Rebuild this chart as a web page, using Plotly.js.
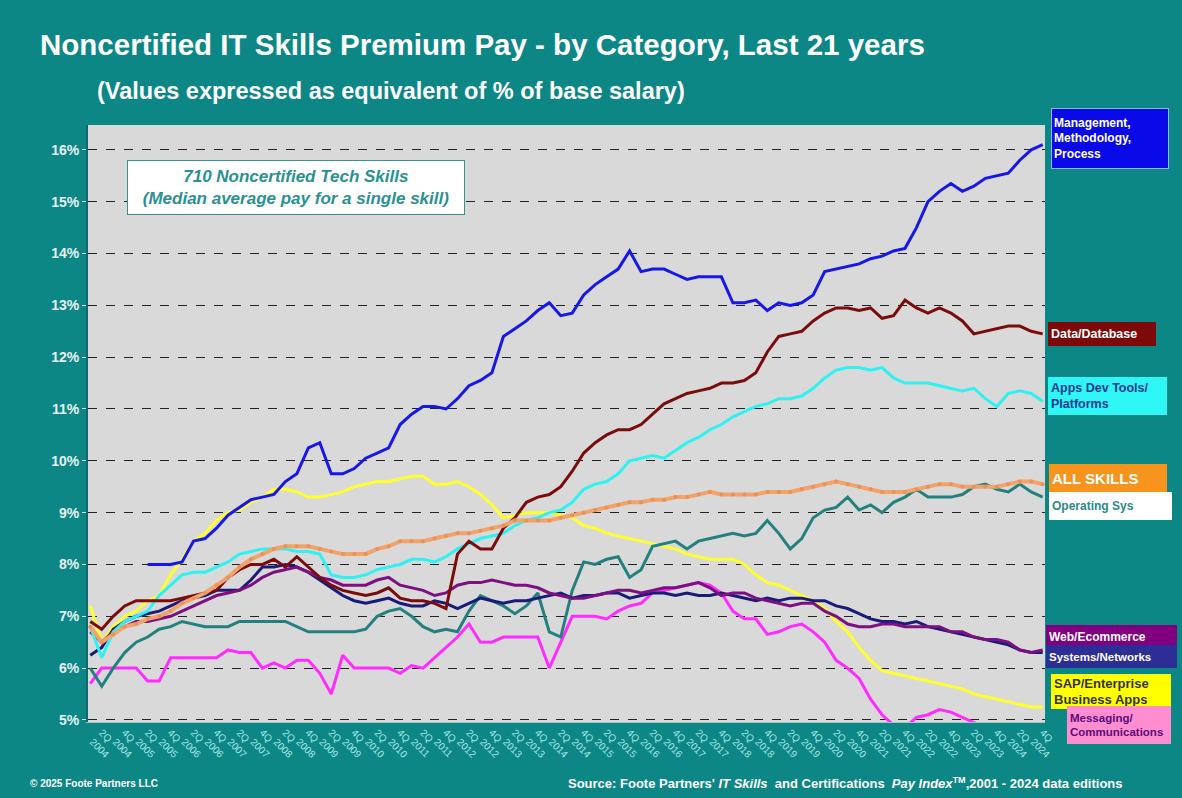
<!DOCTYPE html>
<html>
<head>
<meta charset="utf-8">
<script src="https://cdn.plot.ly/plotly-3.0.1.min.js"></script>
<style>html,body{margin:0;padding:0;background:#0d8686;}#chart{width:1182px;height:798px;}</style>
</head>
<body>
<div id="chart"></div>
<script>
const quarters = ["1Q 2004","2Q 2004","3Q 2004","4Q 2004","1Q 2005","2Q 2005","3Q 2005","4Q 2005","1Q 2006","2Q 2006","3Q 2006","4Q 2006","1Q 2007","2Q 2007","3Q 2007","4Q 2007","1Q 2008","2Q 2008","3Q 2008","4Q 2008","1Q 2009","2Q 2009","3Q 2009","4Q 2009","1Q 2010","2Q 2010","3Q 2010","4Q 2010","1Q 2011","2Q 2011","3Q 2011","4Q 2011","1Q 2012","2Q 2012","3Q 2012","4Q 2012","1Q 2013","2Q 2013","3Q 2013","4Q 2013","1Q 2014","2Q 2014","3Q 2014","4Q 2014","1Q 2015","2Q 2015","3Q 2015","4Q 2015","1Q 2016","2Q 2016","3Q 2016","4Q 2016","1Q 2017","2Q 2017","3Q 2017","4Q 2017","1Q 2018","2Q 2018","3Q 2018","4Q 2018","1Q 2019","2Q 2019","3Q 2019","4Q 2019","1Q 2020","2Q 2020","3Q 2020","4Q 2020","1Q 2021","2Q 2021","3Q 2021","4Q 2021","1Q 2022","2Q 2022","3Q 2022","4Q 2022","1Q 2023","2Q 2023","3Q 2023","4Q 2023","1Q 2024","2Q 2024","3Q 2024","4Q 2024"];

const tickQuarters = ["2Q 2004","4Q 2004","2Q 2005","4Q 2005","2Q 2006","4Q 2006","2Q 2007","4Q 2007","2Q 2008","4Q 2008","2Q 2009","4Q 2009","2Q 2010","4Q 2010","2Q 2011","4Q 2011","2Q 2012","4Q 2012","2Q 2013","4Q 2013","2Q 2014","4Q 2014","2Q 2015","4Q 2015","2Q 2016","4Q 2016","2Q 2017","4Q 2017","2Q 2018","4Q 2018","2Q 2019","4Q 2019","2Q 2020","4Q 2020","2Q 2021","4Q 2021","2Q 2022","4Q 2022","2Q 2023","4Q 2023","2Q 2024","4Q 2024"];

const management = [null,null,null,null,null,8.0,8.0,8.0,8.05,8.45,8.5,8.7,8.95,9.1,9.25,9.3,9.35,9.6,9.75,10.25,10.35,9.75,9.75,9.85,10.05,10.15,10.25,10.7,10.9,11.05,11.05,11.0,11.2,11.45,11.55,11.7,12.4,12.55,12.7,12.9,13.05,12.8,12.85,13.2,13.4,13.55,13.7,14.05,13.65,13.7,13.7,13.6,13.5,13.55,13.55,13.55,13.05,13.05,13.1,12.9,13.05,13.0,13.05,13.2,13.65,13.7,13.75,13.8,13.9,13.95,14.05,14.1,14.5,15.0,15.2,15.35,15.2,15.3,15.45,15.5,15.55,15.8,16.0,16.1];

const dataDatabase = [6.9,6.75,7.0,7.2,7.3,7.3,7.3,7.3,7.35,7.4,7.45,7.5,7.75,7.9,8.0,8.0,8.1,7.95,8.15,7.95,7.75,7.6,7.5,7.45,7.4,7.45,7.55,7.35,7.3,7.3,7.25,7.15,8.2,8.45,8.3,8.3,8.7,8.9,9.2,9.3,9.35,9.5,9.8,10.15,10.35,10.5,10.6,10.6,10.7,10.9,11.1,11.2,11.3,11.35,11.4,11.5,11.5,11.55,11.7,12.1,12.4,12.45,12.5,12.7,12.85,12.95,12.95,12.9,12.95,12.75,12.8,13.1,12.95,12.85,12.95,12.85,12.7,12.45,12.5,12.55,12.6,12.6,12.5,12.45];

const appsDev = [6.8,6.2,6.7,6.9,7.0,7.1,7.4,7.6,7.8,7.85,7.85,7.95,8.05,8.2,8.25,8.3,8.3,8.3,8.25,8.25,8.2,7.8,7.75,7.75,7.8,7.9,7.95,8.0,8.1,8.1,8.05,8.15,8.3,8.4,8.5,8.55,8.6,8.75,8.85,8.9,9.0,9.05,9.2,9.45,9.55,9.6,9.75,10.0,10.05,10.1,10.05,10.2,10.35,10.45,10.6,10.7,10.85,10.95,11.05,11.1,11.2,11.2,11.25,11.4,11.6,11.75,11.8,11.8,11.75,11.8,11.6,11.5,11.5,11.5,11.45,11.4,11.35,11.4,11.2,11.05,11.3,11.35,11.3,11.15];

const allSkills = [6.8,6.5,6.65,6.8,6.85,6.95,7.0,7.1,7.25,7.35,7.45,7.6,7.75,7.95,8.1,8.2,8.3,8.35,8.35,8.35,8.3,8.25,8.2,8.2,8.2,8.3,8.35,8.45,8.45,8.45,8.5,8.55,8.6,8.6,8.65,8.7,8.75,8.85,8.85,8.85,8.85,8.9,8.95,9.0,9.05,9.1,9.15,9.2,9.2,9.25,9.25,9.3,9.3,9.35,9.4,9.35,9.35,9.35,9.35,9.4,9.4,9.4,9.45,9.5,9.55,9.6,9.55,9.5,9.45,9.4,9.4,9.4,9.45,9.5,9.55,9.55,9.5,9.5,9.5,9.5,9.55,9.6,9.6,9.55];

const operatingSys = [6.0,5.65,6.0,6.3,6.5,6.6,6.75,6.8,6.9,6.85,6.8,6.8,6.8,6.9,6.9,6.9,6.9,6.9,6.8,6.7,6.7,6.7,6.7,6.7,6.75,7.0,7.1,7.15,7.0,6.8,6.7,6.75,6.7,7.1,7.4,7.3,7.2,7.05,7.2,7.45,6.7,6.6,7.5,8.05,8.0,8.1,8.15,7.75,7.9,8.35,8.4,8.45,8.3,8.45,8.5,8.55,8.6,8.55,8.6,8.85,8.6,8.3,8.5,8.9,9.05,9.1,9.3,9.05,9.15,9.0,9.2,9.3,9.45,9.3,9.3,9.3,9.35,9.5,9.55,9.45,9.4,9.55,9.4,9.3];

const sapEnterprise = [7.2,6.5,6.8,7.0,7.1,7.3,7.4,7.8,8.1,8.45,8.6,8.85,9.0,9.05,9.2,9.3,9.45,9.45,9.4,9.3,9.3,9.35,9.4,9.5,9.55,9.6,9.6,9.65,9.7,9.7,9.55,9.55,9.6,9.5,9.35,9.15,8.9,8.95,9.0,9.0,9.0,8.95,8.9,8.75,8.7,8.6,8.55,8.5,8.45,8.4,8.35,8.3,8.2,8.15,8.1,8.1,8.1,8.0,7.8,7.65,7.6,7.5,7.4,7.3,7.15,6.9,6.7,6.4,6.15,5.95,5.9,5.85,5.8,5.75,5.7,5.65,5.6,5.5,5.45,5.4,5.35,5.3,5.25,5.25];

const webEcommerce = [6.7,6.5,6.7,6.8,6.9,6.9,6.95,7.0,7.1,7.2,7.3,7.4,7.45,7.5,7.6,7.75,7.85,7.9,7.95,7.85,7.75,7.7,7.6,7.6,7.6,7.7,7.75,7.6,7.55,7.5,7.4,7.45,7.6,7.65,7.65,7.7,7.65,7.6,7.6,7.55,7.45,7.4,7.35,7.35,7.4,7.45,7.5,7.5,7.45,7.5,7.55,7.55,7.6,7.65,7.55,7.4,7.45,7.45,7.35,7.3,7.25,7.2,7.25,7.25,7.1,7.0,6.85,6.8,6.8,6.85,6.85,6.8,6.8,6.8,6.8,6.7,6.7,6.6,6.55,6.55,6.5,6.35,6.3,6.35];

const systemsNetworks = [6.25,6.4,6.75,6.9,7.0,7.05,7.1,7.2,7.3,7.35,7.4,7.5,7.5,7.5,7.7,7.95,7.95,8.0,7.95,7.85,7.7,7.55,7.4,7.3,7.25,7.3,7.35,7.25,7.2,7.2,7.3,7.25,7.15,7.25,7.35,7.3,7.25,7.3,7.3,7.35,7.4,7.45,7.35,7.4,7.4,7.45,7.45,7.35,7.4,7.45,7.45,7.4,7.45,7.4,7.4,7.45,7.4,7.35,7.3,7.35,7.3,7.35,7.35,7.3,7.3,7.2,7.15,7.05,6.95,6.9,6.9,6.85,6.9,6.8,6.75,6.7,6.65,6.6,6.55,6.5,6.45,6.35,6.3,6.3];

const messaging = [5.7,6.0,6.0,6.0,6.0,5.75,5.75,6.2,6.2,6.2,6.2,6.2,6.35,6.3,6.3,6.0,6.1,6.0,6.15,6.15,5.9,5.5,6.25,6.0,6.0,6.0,6.0,5.9,6.05,6.0,6.2,6.4,6.6,6.85,6.5,6.5,6.6,6.6,6.6,6.6,6.0,6.5,7.0,7.0,7.0,6.95,7.1,7.2,7.25,7.45,7.5,7.55,7.6,7.65,7.6,7.45,7.1,6.95,6.95,6.65,6.7,6.8,6.85,6.7,6.5,6.15,6.0,5.8,5.4,5.1,4.9,4.85,5.05,5.1,5.2,5.15,5.05,4.95,4.85,4.8,4.7,4.6,4.5,4.4];

const seriesDefs = [
  {name:"Messaging/ Communications", y:messaging, color:"#ff2bff", width:3},
  {name:"SAP/Enterprise Business Apps", y:sapEnterprise, color:"#ffff2e", width:3},
  {name:"Operating Sys", y:operatingSys, color:"#24807f", width:3},
  {name:"Systems/Networks", y:systemsNetworks, color:"#1a1a78", width:3},
  {name:"Web/Ecommerce", y:webEcommerce, color:"#7d1080", width:3},
  {name:"Apps Dev Tools/ Platforms", y:appsDev, color:"#2ef2f2", width:3},
  {name:"Data/Database", y:dataDatabase, color:"#7a0c0c", width:3},
  {name:"ALL SKILLS", y:allSkills, color:"#f2a36a", width:4, markers:true},
  {name:"Management, Methodology, Process", y:management, color:"#1717e8", width:3}
];

const traces = seriesDefs.map(s => {
  const t = {
    type:"scatter",
    mode: s.markers ? "lines+markers" : "lines",
    x: quarters,
    y: s.y,
    name: s.name,
    line:{color:s.color, width:s.width},
    connectgaps:false
  };
  if (s.markers) t.marker = {color:"#e8925a", size:4};
  return t;
});

const L=88, R=1045, T=125, B=722;
const px = v => (v-L)/(R-L);
const py = v => (B-v)/(B-T);
const FONT = "Arial, Liberation Sans, sans-serif";

function box(text, x0, y0, x1, y1, bg, fg, border, size){
  return {
    xref:"paper", yref:"paper", x:px(x0), y:py(y0), xanchor:"left", yanchor:"top",
    width:(x1-x0)-8, height:(y1-y0)-4, text:text, showarrow:false, align:"left", valign:"middle",
    bgcolor:bg, bordercolor:border, borderwidth:1, borderpad:2,
    font:{family:FONT, size:size, color:fg, weight:"bold"}
  };
}

const annotations = [
  {xref:"paper", yref:"paper", x:px(95), y:py(91), xanchor:"left", yanchor:"middle", showarrow:false,
   text:"(Values expressed as equivalent of % of base salary)",
   font:{family:FONT, size:23.5, color:"#ffffff", weight:"bold"}},
  {xref:"paper", yref:"paper", x:px(127), y:py(160), xanchor:"left", yanchor:"top", showarrow:false,
   width:334, height:51, bgcolor:"#ffffff", bordercolor:"#3a8f8f", borderwidth:1, align:"center", valign:"middle",
   text:"<i>710 Noncertified Tech Skills</i><br><i>(Median average pay for a single skill)</i>",
   font:{family:FONT, size:17, color:"#2a9191", weight:"bold"}},
  box("Management,<br>Methodology,<br>Process", 1051, 108, 1171, 167, "#0a0ae8", "#ffffff", "#8ab4f0", 12),
  box("Data/Database", 1048, 322, 1158, 344, "#7d0a0a", "#ffffff", "#7d0a0a", 12.5),
  box("Apps Dev Tools/<br>Platforms", 1048, 377, 1169, 413, "#2ff5f5", "#1c3a8c", "#2ff5f5", 12.5),
  box("ALL SKILLS", 1049, 464, 1169, 491, "#f7941d", "#ffffff", "#f7941d", 15),
  box("Operating Sys", 1049, 492, 1174, 518, "#ffffff", "#2a8a8a", "#ffffff", 12),
  box("Web/Ecommerce", 1046, 625, 1179, 646, "#800080", "#ffffff", "#800080", 12),
  box("Systems/Networks", 1046, 645, 1179, 666, "#2d2d96", "#ffffff", "#2d2d96", 11.5),
  box("SAP/Enterprise<br>Business Apps", 1051, 674, 1173, 707, "#ffff00", "#333333", "#ffff00", 13),
  box("Messaging/<br>Communications", 1067, 706, 1173, 742, "#ff8ed0", "#5a0a7a", "#ff8ed0", 11.5),
  {xref:"paper", yref:"paper", x:px(28), y:py(783), xanchor:"left", yanchor:"middle", showarrow:false,
   text:"© 2025 Foote Partners LLC",
   font:{family:FONT, size:10, color:"#ffffff", weight:"bold"}},
  {xref:"paper", yref:"paper", x:px(566), y:py(783), xanchor:"left", yanchor:"middle", showarrow:false,
   text:"Source: Foote Partners' <i>IT Skills</i>  and Certifications  <i>Pay Index</i><sup>TM</sup>,2001 - 2024 data editions",
   font:{family:FONT, size:13, color:"#ffffff", weight:"bold"}}
];

const tickText = tickQuarters.map(q => q.replace(" ", "<br>"));

const layout = {
  width:1182, height:798,
  paper_bgcolor:"#0d8686",
  plot_bgcolor:"#d9d9d9",
  margin:{l:L, r:1182-R, t:T, b:798-B},
  showlegend:false,
  title:{text:"Noncertified IT Skills Premium Pay - by Category, Last 21 years",
         x:40/1182, xanchor:"left", y:1-45/798, yanchor:"middle",
         font:{family:FONT, size:29.5, color:"#ffffff", weight:"bold"}},
  xaxis:{type:"category", categoryorder:"array", categoryarray:quarters,
         tickmode:"array", tickvals:tickQuarters, ticktext:tickText, tickangle:45,
         tickfont:{family:FONT, size:10, color:"#a8e6e6"},
         showgrid:false, showline:true, linecolor:"#a0c8c8", linewidth:1,
         ticks:"", range:[-0.2, 83.2], zeroline:false, fixedrange:true},
  yaxis:{range:[4.96, 16.48], dtick:1, tick0:5, ticksuffix:"%",
         tickfont:{family:FONT, size:14, color:"#e6f2f2", weight:"bold"},
         showgrid:true, gridcolor:"#222222", griddash:"dash", gridwidth:1,
         showline:true, linecolor:"#0a6b6b", linewidth:2, ticks:"outside", tickcolor:"#e6f2f2", ticklen:4,
         zeroline:false, fixedrange:true},
  annotations:annotations
};

Plotly.newPlot("chart", traces, layout, {displayModeBar:false, staticPlot:true});
</script>
</body>
</html>
